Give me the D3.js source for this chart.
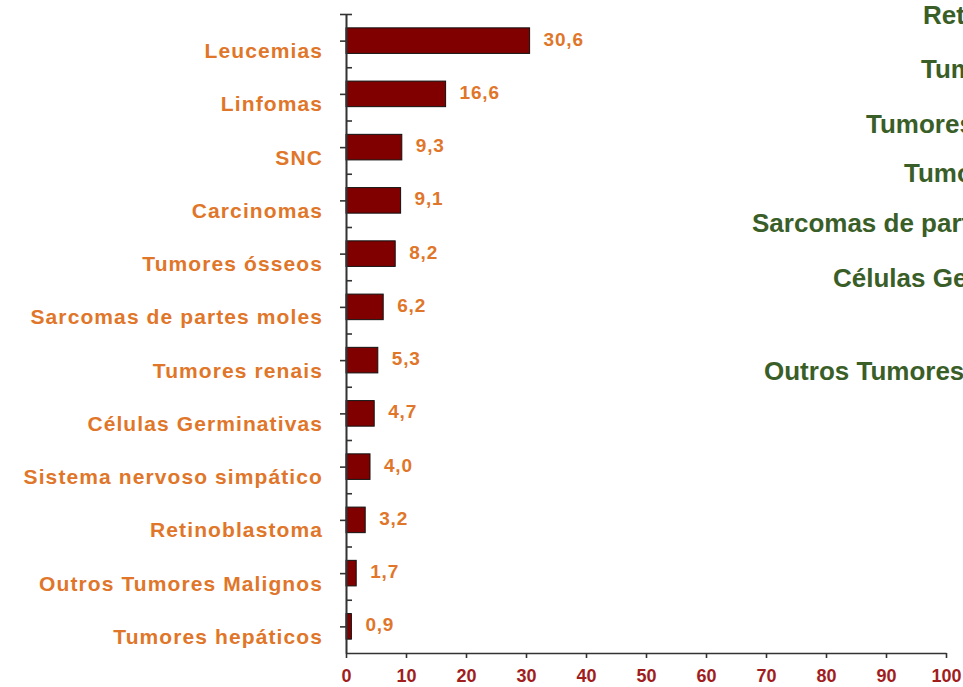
<!DOCTYPE html>
<html>
<head>
<meta charset="utf-8">
<script src="https://cdn.jsdelivr.net/npm/d3@7"></script>
<style>
  html, body { margin: 0; padding: 0; background: #fff; }
  svg { display: block; }
  text { font-family: Arial, "Liberation Sans", sans-serif; font-weight: bold; }
</style>
</head>
<body>
<svg id="chart" width="963" height="687"></svg>
<script>
// ---- data ----
const categories = ["Leucemias", "Linfomas", "SNC", "Carcinomas", "Tumores ósseos",
  "Sarcomas de partes moles", "Tumores renais", "Células Germinativas",
  "Sistema nervoso simpático", "Retinoblastoma", "Outros Tumores Malignos", "Tumores hepáticos"];
const values = [30.6, 16.6, 9.3, 9.1, 8.2, 6.2, 5.3, 4.7, 4.0, 3.2, 1.7, 0.9];
const xTicks = [0, 10, 20, 30, 40, 50, 60, 70, 80, 90, 100];
// labels of a neighbouring chart, cut off by the right edge
const sideLabels = ["Retinoblastoma", "Tumores renais", "Tumores hepáticos", "Tumores ósseos",
  "Sarcomas de partes moles", "Células Germinativas", "Outros Tumores Malignos"];

// ---- layout ----
const svg = d3.select("#chart");
const mLeft = 346, mRight = 946, mTop = 14, mBottom = 653;
const orange = "#E0762A", darkRed = "#A01E1E", green = "#3A5E28", axisCol = "#333";

const x = d3.scaleLinear().domain([0, 100]).range([mLeft, mRight]);
const y = d3.scaleBand().domain(categories).range([mTop, mBottom]).paddingInner(0.52).paddingOuter(0.26);
const yLin = d3.scaleLinear().domain([0, categories.length]).range([mTop, mBottom]);

// bars
svg.append("g").selectAll("rect").data(values).join("rect")
  .attr("x", x(0))
  .attr("y", (d, i) => y(categories[i]))
  .attr("width", d => x(d) - x(0))
  .attr("height", y.bandwidth())
  .attr("fill", "#800000")
  .attr("stroke", "#111")
  .attr("stroke-width", 1);

// value labels
const fmt = d => d3.format(".1f")(d).replace(".", ",");
svg.append("g").selectAll("text").data(values).join("text")
  .attr("x", d => x(d) + 14)
  .attr("y", (d, i) => y(categories[i]) + y.bandwidth() / 2 + 5)
  .attr("fill", orange)
  .attr("font-size", 19)
  .attr("letter-spacing", 0.8)
  .text(d => fmt(d));

// category labels
svg.append("g").selectAll("text").data(categories).join("text")
  .attr("x", 323)
  .attr("y", d => y(d) + y.bandwidth() / 2 + 17.5)
  .attr("text-anchor", "end")
  .attr("fill", orange)
  .attr("font-size", 21)
  .attr("letter-spacing", 1.1)
  .text(d => d);

// y axis: center ticks outward, boundary ticks inward
const centers = [0].concat(categories.map((c, i) => i + 0.5));
const yAxisL = svg.append("g").attr("transform", `translate(${mLeft},0)`)
  .call(d3.axisLeft(yLin).tickValues(centers).tickSize(6).tickSizeOuter(0).tickFormat(""));
const yAxisR = svg.append("g").attr("transform", `translate(${mLeft},0)`)
  .call(d3.axisRight(yLin).tickValues(d3.range(0, categories.length)).tickSize(6).tickSizeOuter(0).tickFormat(""));
[yAxisL, yAxisR].forEach(g => {
  g.selectAll("path, line").attr("stroke", axisCol).attr("stroke-width", 1.6);
});

// x axis
const xAxis = svg.append("g").attr("transform", `translate(0,${mBottom})`)
  .call(d3.axisBottom(x).tickValues(xTicks).tickSize(5).tickSizeOuter(0).tickPadding(11));
xAxis.selectAll("path, line").attr("stroke", axisCol).attr("stroke-width", 1.6);
xAxis.selectAll("text")
  .attr("fill", darkRed)
  .attr("font-size", 18)
  .attr("font-family", "Arial, 'Liberation Sans', sans-serif")
  .attr("font-weight", "bold");

// side labels (cut by right edge)
const sidePos = [[923, 24], [921, 78], [866, 133], [904, 182], [752, 232], [833, 287], [764, 380]];
svg.append("g").selectAll("text").data(sideLabels).join("text")
  .attr("x", (d, i) => sidePos[i][0])
  .attr("y", (d, i) => sidePos[i][1])
  .attr("fill", green)
  .attr("font-size", 26)
  .text(d => d);
</script>
</body>
</html>
